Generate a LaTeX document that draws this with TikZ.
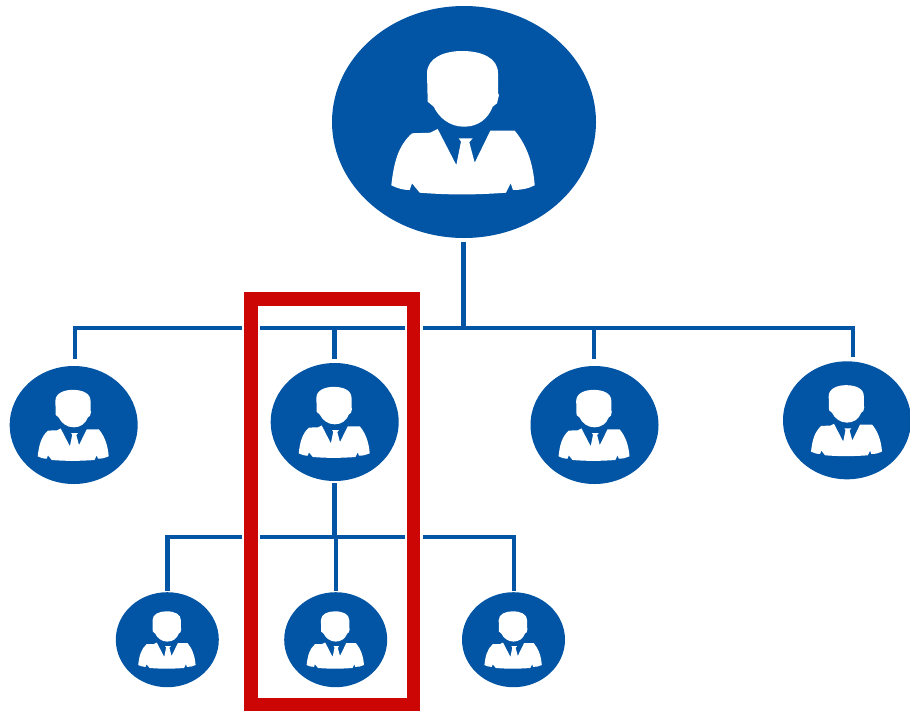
\documentclass[tikz,border=0pt]{standalone}
\usetikzlibrary{shapes.geometric}
\definecolor{orgblue}{HTML}{0254A4}
\definecolor{framered}{HTML}{CC0605}
\tikzset{
	person/.pic={
		% head
		\fill [white] (-36.3, -20.3) -- (-37, -48.7)
			.. controls (-37, -64) and (-20, -71) .. (-2, -71)
			.. controls (18, -71) and (34, -64) .. (34, -48.7)
			-- (34, -28.7) -- (35, -27) -- (33, -18.7) -- (28.7, -15.3)
			.. controls (24, -3) and (14, 4.7) .. (0, 4.7)
			.. controls (-14, 4.7) and (-25, -4) .. (-30.3, -15.3) -- cycle;
		% suit and tie
		\fill [white] (-72.7, 63.3)
			.. controls (-70, 40) and (-66, 24) .. (-52, 11.3)
			-- (-33.7, 10.7) -- (-26.3, 7) -- (-7.7, 43) -- (-3, 19.7)
			-- (-5.3, 16.3) -- (8.7, 16.3) -- (5.3, 20.3) -- (10.7, 40.7)
			-- (26.3, 8.7) -- (50.7, 8.7)
			.. controls (62, 22) and (69, 40) .. (70.7, 63.3)
			.. controls (64, 67) and (56, 68) .. (49, 68)
			-- (46.7, 61.3) -- (42, 70.7)
			.. controls (10, 73) and (-15, 73) .. (-44.3, 70.7)
			-- (-52, 61.3) -- (-54.3, 68)
			.. controls (-62, 68) and (-67, 66) .. (-72.7, 63.3) -- cycle;
	},
	member/.style = {ellipse, fill = orgblue, inner sep = 0pt},
	boss/.style = {member, minimum width = 264pt, minimum height = 232pt},
	staff/.style = {member, minimum width = 128pt, minimum height = 118pt},
	junior/.style = {member, minimum width = 103pt, minimum height = 95pt},
	link/.style = {orgblue, line width = 4.2pt},
	trunk/.style = {orgblue, line width = 5pt},
}
\begin{document}
\begin{tikzpicture}[x = 1pt, y = -1pt]
		\useasboundingbox (0, 0) rectangle (910, 713);
		% people
		\node [boss] (top) at (464, 122) {};
		\node [staff] (staffa) at (73.7, 425) {};
		\node [staff] (staffb) at (334.7, 422) {};
		\node [staff] (staffc) at (594.5, 425) {};
		\node [staff] (staffd) at (847, 420.3) {};
		\node [junior] (juniora) at (167.3, 639.7) {};
		\node [junior] (juniorb) at (335.7, 639.7) {};
		\node [junior] (juniorc) at (513.5, 639.7) {};
		\pic at (top) {person};
		\foreach \who in {staffa, staffb, staffc, staffd}
			\pic [scale = 0.495] at (\who) {person};
		\foreach \who in {juniora, juniorb, juniorc}
			\pic [scale = 0.4] at (\who) {person};
		% upper connectors
		\coordinate (topout) at (463.5, 242);
		\coordinate (topbar) at (463.5, 330);
		\coordinate (ua) at (75, 328);
		\coordinate (ub) at (334.5, 328);
		\coordinate (uc) at (594, 328);
		\coordinate (ud) at (853, 328);
		\coordinate (uaend) at (75, 359);
		\coordinate (ubend) at (334.5, 358.5);
		\coordinate (ucend) at (594, 359);
		\coordinate (udend) at (853, 357);
		\coordinate (ugapa) at (242, 328);
		\coordinate (ugapb) at (260, 328);
		\coordinate (ugapc) at (405, 328);
		\coordinate (ugapd) at (423, 328);
		\draw [trunk] (topout) -- (topbar);
		\draw [link] (uaend) -- (ua) -- (ugapa);
		\draw [link] (ugapb) -- (ugapc);
		\draw [link] (ugapd) -- (ud) -- (udend);
		\draw [link] (ub) -- (ubend);
		\draw [link] (uc) -- (ucend);
		% lower connectors
		\coordinate (midout) at (334.5, 483);
		\coordinate (midbar) at (334.5, 537);
		\coordinate (la) at (167.5, 537);
		\coordinate (lb) at (335.6, 537);
		\coordinate (lc) at (514, 537);
		\coordinate (laend) at (167.5, 590.5);
		\coordinate (lbend) at (335.6, 590.5);
		\coordinate (lcend) at (514, 590.5);
		\coordinate (lgapa) at (242, 537);
		\coordinate (lgapb) at (260, 537);
		\coordinate (lgapc) at (405, 537);
		\coordinate (lgapd) at (423, 537);
		\draw [trunk] (midout) -- (midbar);
		\draw [link] (laend) -- (la) -- (lgapa);
		\draw [link] (lgapb) -- (lgapc);
		\draw [link] (lgapd) -- (lc) -- (lcend);
		\draw [link] (lb) -- (lbend);
		% highlight
		\draw [framered, line width = 13.5pt] (251, 299) rectangle (413.7, 704.7);
	\end{tikzpicture}
\end{document}
